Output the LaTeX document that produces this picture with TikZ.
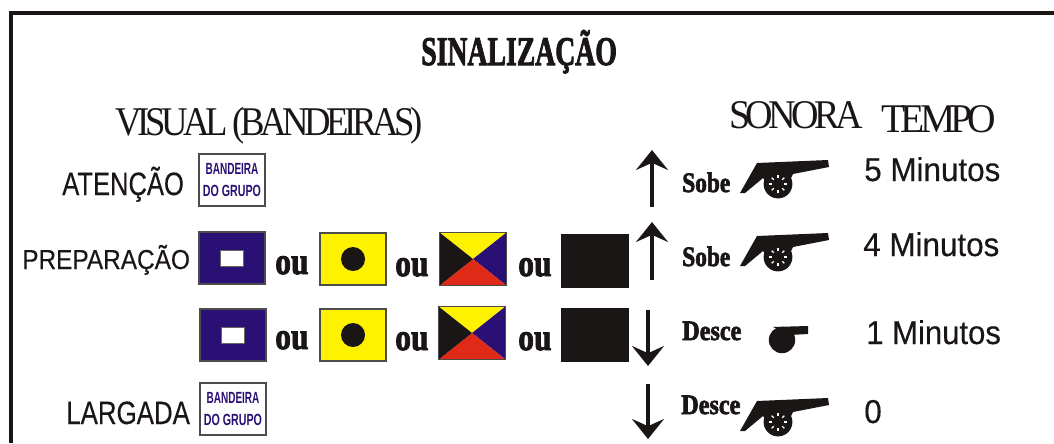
\documentclass[tikz,border=0pt]{standalone}
\usepackage{fontspec}
\usepackage{graphicx}
\setmainfont{Liberation Serif}
\newfontfamily\labelfont[FakeBold=0.3]{Liberation Sans}
\newfontfamily\flagfont{Liberation Sans}
\newfontfamily\tightfont[LetterSpace=-12]{Liberation Serif}
\newfontfamily\stencilfont[FakeBold=2.5]{Liberation Serif Bold}
\usetikzlibrary{arrows.meta}
\definecolor{flagblue}{HTML}{2A0F75}
\definecolor{flagred}{HTML}{DE2A17}
\definecolor{ink}{HTML}{1A1615}
\tikzset{
  txt/.style={anchor=base west, inner sep=0pt, text=ink},
  flagbox/.style={draw=black!70, line width=0.3mm, minimum width=16.5mm, minimum height=13mm, inner sep=0pt},
  groupflag/.style={flagbox, fill=white, text=flagblue, align=center,
    font=\flagfont\bfseries\fontsize{11.5}{15.6}\selectfont},
  signal/.style={-{Stealth[length=5mm, width=8mm, inset=1.8mm]}, line width=1mm, draw=ink},
  cannon/.pic={
    \fill[ink] (-21,-21) -- (50,-24) -- (51,-17) -- (15,-10) -- (10,0) -- (-12,-2) -- (-15,-6)
      -- (-33,9) -- (-38,9) -- cycle;
    \fill[ink] (0,0) circle[radius=3.6mm];
    \foreach \a in {0,45,...,315} {
      \draw[white, line width=0.3mm] (\a:6) -- (\a:9);
    }
  }
}
\begin{document}
\begin{tikzpicture}[x=0.25mm, y=-0.25mm]
  \useasboundingbox (0,0) rectangle (1054,443);
  \coordinate (frameA) at (11,443);
  \coordinate (frameB) at (11,13);
  \coordinate (frameC) at (1054,13);
  \draw[ink, line width=0.8mm] (frameA) -- (frameB) -- (frameC);

  % headings
  \node[txt, font=\stencilfont\fontsize{29}{29}\selectfont] (title) at (421,65)
    {\scalebox{0.68}[1]{SINALIZAÇÃO}};
  \node[txt, font=\tightfont\fontsize{29}{29}\selectfont] (visual) at (115,135)
    {\scalebox{0.9}[1]{VISUAL (BANDEIRAS)}};
  \node[txt, font=\tightfont\fontsize{29}{29}\selectfont] (sonora) at (729,128)
    {\scalebox{0.935}[1]{SONORA}};
  \node[txt, font=\tightfont\fontsize{29}{29}\selectfont] (tempo) at (881,132)
    {\scalebox{0.97}[1]{TEMPO}};

  % row labels
  \node[txt, font=\labelfont\fontsize{23}{23}\selectfont] (atencao) at (62,195)
    {\scalebox{0.79}[1]{ATENÇÃO}};
  \node[txt, font=\labelfont\fontsize{19.5}{19.5}\selectfont] (preparacao) at (22,269)
    {\scalebox{0.89}[1]{PREPARAÇÃO}};
  \node[txt, font=\labelfont\fontsize{23}{23}\selectfont] (largada) at (66,424)
    {\scalebox{0.8}[1]{LARGADA}};

  % flags
  \node[groupflag] (grupoA) at (232,180)
    {\scalebox{0.62}[1]{BANDEIRA}\\\scalebox{0.66}[1]{DO GRUPO}};
  \node[groupflag] (grupoB) at (233,409)
    {\scalebox{0.62}[1]{BANDEIRA}\\\scalebox{0.66}[1]{DO GRUPO}};

  \foreach \n/\xa/\xb/\xc/\xd/\ya/\yb/\yc/\yd in
      {A/232/353/473/595/258/259/259/261, B/233/353/472/595/335/335/333/335} {
    \node[flagbox, fill=flagblue] (blue\n) at (\xa,\ya) {};
    \node[draw=black!60, fill=white, minimum width=5.7mm, minimum height=4.1mm, inner sep=0pt]
      (hole\n) at (blue\n.center) {};
    \node[flagbox, fill=yellow] (yellow\n) at (\xb,\yb) {};
    \node[circle, fill=ink, minimum size=6mm, inner sep=0pt] (dot\n) at (yellow\n.center) {};
    \node[flagbox] (zulu\n) at (\xc,\yc) {};
    \fill[yellow] (zulu\n.north west) -- (zulu\n.north east) -- (zulu\n.center) -- cycle;
    \fill[flagblue] (zulu\n.north east) -- (zulu\n.south east) -- (zulu\n.center) -- cycle;
    \fill[flagred] (zulu\n.south east) -- (zulu\n.south west) -- (zulu\n.center) -- cycle;
    \fill[ink] (zulu\n.south west) -- (zulu\n.north west) -- (zulu\n.center) -- cycle;
    \draw[black!70, line width=0.3mm] (zulu\n.north west) rectangle (zulu\n.south east);
    \node[fill=ink, minimum width=17mm, minimum height=13.5mm, inner sep=0pt] (black\n) at (\xd,\yd) {};
  }

  % the small ou
  \foreach \n/\x/\y in {a/275/274, b/395/276, c/518/276, d/275/349, e/395/350, f/518/350} {
    \node[txt, font=\stencilfont\fontsize{27}{27}\selectfont] (ou\n) at (\x,\y)
      {\scalebox{0.83}[1]{ou}};
  }

  % arrows
  \coordinate (upAs) at (652,207);
  \coordinate (upAe) at (652,150);
  \coordinate (upBs) at (652,280);
  \coordinate (upBe) at (652,222);
  \coordinate (downAs) at (648,310);
  \coordinate (downAe) at (648,366);
  \coordinate (downBs) at (648,384);
  \coordinate (downBe) at (648,439);
  \draw[signal] (upAs) -- (upAe);
  \draw[signal] (upBs) -- (upBe);
  \draw[signal] (downAs) -- (downAe);
  \draw[signal] (downBs) -- (downBe);

  % sound words
  \node[txt, font=\stencilfont\fontsize{20}{20}\selectfont] (soheA) at (682,192)
    {\scalebox{0.83}[1]{Sobe}};
  \node[txt, font=\stencilfont\fontsize{20}{20}\selectfont] (soheB) at (682,266)
    {\scalebox{0.83}[1]{Sobe}};
  \node[txt, font=\stencilfont\fontsize{20}{20}\selectfont] (desceA) at (682,340)
    {\scalebox{0.86}[1]{Desce}};
  \node[txt, font=\stencilfont\fontsize{20}{20}\selectfont] (desceB) at (681,414)
    {\scalebox{0.86}[1]{Desce}};

  \pic at (778,184) {cannon};
  \pic at (778,257) {cannon};
  \pic at (778,422) {cannon};
  % whistle
  \fill[ink] (782,340) circle[radius=3.3mm];
  \fill[ink] (773,327) -- (808,326) -- (808,334) -- (790,335) -- cycle;

  % times
  \node[txt, font=\labelfont\fontsize{23.5}{23.5}\selectfont] (tempoA) at (864,181)
    {\scalebox{0.95}[1]{5 Minutos}};
  \node[txt, font=\labelfont\fontsize{23.5}{23.5}\selectfont] (tempoB) at (863,256)
    {\scalebox{0.95}[1]{4 Minutos}};
  \node[txt, font=\labelfont\fontsize{23.5}{23.5}\selectfont] (tempoC) at (866,344)
    {\scalebox{0.94}[1]{1 Minutos}};
  \node[txt, font=\labelfont\fontsize{23.5}{23.5}\selectfont] (tempoD) at (864,423)
    {\scalebox{0.95}[1]{0}};
\end{tikzpicture}
\end{document}
